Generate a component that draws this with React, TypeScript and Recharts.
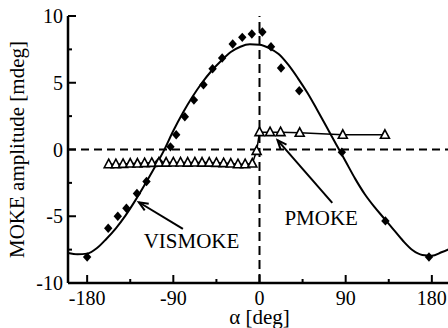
import { ComposedChart, Line, Scatter, XAxis, YAxis, ReferenceLine, ReferenceDot, Label } from 'recharts'

// fitted curve
const curveAlpha = [-200, -190, -180, -170, -160, -150, -140, -130, -120, -110, -100, -90, -80, -70, -60, -50, -40, -30, -20, -10, 0, 10, 20, 30, 40, 50, 60, 70, 80, 90, 100, 110, 120, 130, 140, 150, 160, 170, 180, 190, 200]
const curveAmp = [-7.75, -7.85, -7.8, -7.4, -6.7, -5.9, -4.95, -3.85, -2.65, -1.4, -0.1, 1.4, 2.75, 3.95, 5.0, 5.9, 6.65, 7.3, 7.7, 7.88, 7.85, 7.6, 7.15, 6.35, 5.35, 4.25, 3.0, 1.7, 0.4, -0.9, -2.2, -3.35, -4.3, -5.15, -6.0, -6.85, -7.55, -7.9, -7.95, -7.7, -7.4]

// VISMOKE (filled diamonds)
const visAlpha = [-180, -158, -148, -139, -128, -118, -105, -93, -87, -78, -68.5, -58.5, -49, -39, -28, -18, -8, 3, 12, 22.5, 41.5, 86, 131.5, 177]
const visAmp = [-8.05, -5.9, -5.0, -4.4, -3.3, -2.4, -0.9, 0.2, 1.1, 2.45, 3.7, 4.85, 6.05, 6.85, 7.9, 8.4, 8.65, 8.8, 7.7, 6.1, 4.4, -0.2, -5.35, -8.05]

// PMOKE (open triangles)
const pmAlpha = [-157.5, -150, -142.5, -135, -127.5, -120, -112.5, -105, -97.5, -90, -82.5, -75, -67.5, -60, -52.5, -45, -37.5, -30, -22.5, -15, -7.5, -3, 0, 11, 22, 42, 87, 131]
const pmAmp = [-1.1, -1.1, -1.08, -1.05, -1.05, -1.02, -1.0, -0.98, -0.98, -0.97, -0.97, -0.98, -0.97, -0.98, -0.98, -1.0, -1.02, -1.05, -1.1, -1.1, -1.05, -0.1, 1.3, 1.3, 1.3, 1.25, 1.1, 1.1]

const xTicks = [-180, -135, -90, -45, 0, 45, 90, 135, 180]
const yTicks = [-10, -7.5, -5, -2.5, 0, 2.5, 5, 7.5, 10]

const curve = curveAlpha.map((x, i) => ({ x, y: curveAmp[i] }))
const vis = visAlpha.map((x, i) => ({ x, y: visAmp[i] }))
const pmoke = pmAlpha.map((x, i) => ({ x, y: pmAmp[i] }))

const FONT = "'Liberation Serif', 'Times New Roman', serif"
const MAJ = 8
const MIN = 4

function LeftTick(p: any) {
  const v = p.payload.value
  const major = v % 5 === 0
  return (
    <g>
      <line x1={p.x} y1={p.y} x2={p.x + (major ? MAJ : MIN)} y2={p.y} stroke='#000' strokeWidth={2} />
      {major && (
        <text x={p.x - 5} y={p.y} dy='0.35em' textAnchor='end' fontFamily={FONT} fontSize={20} fill='#000'>
          {v}
        </text>
      )}
    </g>
  )
}

function RightTick(p: any) {
  const major = p.payload.value % 5 === 0
  return <line x1={p.x} y1={p.y} x2={p.x - (major ? MAJ : MIN)} y2={p.y} stroke='#000' strokeWidth={2} />
}

function BottomTick(p: any) {
  const v = p.payload.value
  const major = v % 90 === 0
  return (
    <g>
      <line x1={p.x} y1={p.y} x2={p.x} y2={p.y - (major ? MAJ : MIN)} stroke='#000' strokeWidth={2} />
      {major && (
        <text x={p.x} y={p.y + 22} textAnchor='middle' fontFamily={FONT} fontSize={20} fill='#000'>
          {v}
        </text>
      )}
    </g>
  )
}

function TopTick(p: any) {
  const major = p.payload.value % 90 === 0
  return <line x1={p.x} y1={p.y} x2={p.x} y2={p.y + (major ? MAJ : MIN)} stroke='#000' strokeWidth={2} />
}

function Diamond(p: any) {
  const { cx, cy } = p
  return <polygon points={`${cx},${cy - 4.7} ${cx + 4.2},${cy} ${cx},${cy + 4.7} ${cx - 4.2},${cy}`} fill='#000' />
}

function Triangle(p: any) {
  const { cx, cy } = p
  if (cx == null || cy == null) return <g key={p.index} />
  return (
    <polygon
      key={p.index}
      points={`${cx},${cy - 5} ${cx + 4.5},${cy + 3.5} ${cx - 4.5},${cy + 3.5}`}
      fill='#fff'
      stroke='#000'
      strokeWidth={1.6}
    />
  )
}

// arrow with its tip at the first point of the segment
function Arrow(p: any) {
  const { x1, y1, x2, y2 } = p
  const a = Math.atan2(y1 - y2, x1 - x2)
  const L = 10
  const w = 0.4
  const h1 = `${x1 - L * Math.cos(a - w)},${y1 - L * Math.sin(a - w)}`
  const h2 = `${x1 - L * Math.cos(a + w)},${y1 - L * Math.sin(a + w)}`
  return (
    <g>
      <line x1={x1} y1={y1} x2={x2} y2={y2} stroke='#000' strokeWidth={2} />
      <polyline points={`${h1} ${x1},${y1} ${h2}`} fill='none' stroke='#000' strokeWidth={2} />
    </g>
  )
}

const textShape = (label: string) => (p: any) => (
  <text x={p.cx} y={p.cy} fontFamily={FONT} fontSize={21} fill='#000'>
    {label}
  </text>
)

const axisLine = { stroke: '#000', strokeWidth: 2.5 }

export default function App() {
  return (
    <div style={{ position: 'fixed', left: 0, top: 0, width: 448, height: 328, overflow: 'hidden', background: '#fff' }}>
      <div style={{ position: 'absolute', left: 8, top: 8 }}>
        <ComposedChart width={443} height={320} margin={{ top: 8, right: 0, bottom: 0, left: 0 }}>
          <XAxis
            xAxisId='b'
            dataKey='x'
            type='number'
            domain={[-200, 200]}
            allowDataOverflow
            ticks={xTicks}
            interval={0}
            height={45}
            tickLine={false}
            tickSize={0}
            tickMargin={0}
            axisLine={axisLine}
            tick={BottomTick}
          >
            <Label
              content={(p: any) => (
                <text
                  x={p.viewBox.x + p.viewBox.width / 2}
                  y={316}
                  textAnchor='middle'
                  fontFamily={FONT}
                  fontSize={21}
                  fill='#000'
                >
                  α [deg]
                </text>
              )}
            />
          </XAxis>
          <XAxis
            xAxisId='t'
            orientation='top'
            type='number'
            domain={[-200, 200]}
            allowDataOverflow
            ticks={xTicks}
            interval={0}
            height={0}
            tickLine={false}
            tickSize={0}
            tickMargin={0}
            axisLine={axisLine}
            tick={TopTick}
          />
          <YAxis
            yAxisId='l'
            dataKey='y'
            type='number'
            domain={[-10, 10]}
            allowDataOverflow
            ticks={yTicks}
            interval={0}
            width={60}
            tickLine={false}
            tickSize={0}
            tickMargin={0}
            axisLine={axisLine}
            tick={LeftTick}
          >
            <Label
              content={(p: any) => {
                const cy = p.viewBox.y + p.viewBox.height / 2
                return (
                  <text
                    x={16}
                    y={cy}
                    transform={`rotate(-90, 16, ${cy})`}
                    textAnchor='middle'
                    fontFamily={FONT}
                    fontSize={21}
                    fill='#000'
                  >
                    MOKE amplitude [mdeg]
                  </text>
                )
              }}
            />
          </YAxis>
          <YAxis
            yAxisId='r'
            orientation='right'
            type='number'
            domain={[-10, 10]}
            allowDataOverflow
            ticks={yTicks}
            interval={0}
            width={0}
            tickLine={false}
            tickSize={0}
            tickMargin={0}
            axisLine={axisLine}
            tick={RightTick}
          />

          <ReferenceLine xAxisId='b' yAxisId='l' y={0} stroke='#000' strokeWidth={2} strokeDasharray='8 5' />
          <ReferenceLine xAxisId='b' yAxisId='l' x={0} stroke='#000' strokeWidth={2} strokeDasharray='9 5' />

          <Line
            xAxisId='b'
            yAxisId='l'
            data={curve}
            dataKey='y'
            type='monotone'
            stroke='#000'
            strokeWidth={2}
            dot={false}
            activeDot={false}
            isAnimationActive={false}
          />
          <Scatter xAxisId='b' yAxisId='l' data={vis} shape={Diamond} isAnimationActive={false} />
          <Line
            xAxisId='b'
            yAxisId='l'
            data={pmoke}
            dataKey='y'
            type='linear'
            stroke='#000'
            strokeWidth={1.5}
            dot={Triangle}
            activeDot={false}
            isAnimationActive={false}
          />

          <ReferenceLine
            xAxisId='b'
            yAxisId='l'
            segment={[{ x: -126, y: -3.95 }, { x: -80, y: -5.95 }]}
            shape={Arrow}
          />
          <ReferenceLine
            xAxisId='b'
            yAxisId='l'
            segment={[{ x: 18.8, y: 0.7 }, { x: 76, y: -4.0 }]}
            shape={Arrow}
          />
          <ReferenceDot xAxisId='b' yAxisId='l' x={-121} y={-7.4} r={0} shape={textShape('VISMOKE')} />
          <ReferenceDot xAxisId='b' yAxisId='l' x={26} y={-5.65} r={0} shape={textShape('PMOKE')} />
        </ComposedChart>
      </div>
    </div>
  )
}
